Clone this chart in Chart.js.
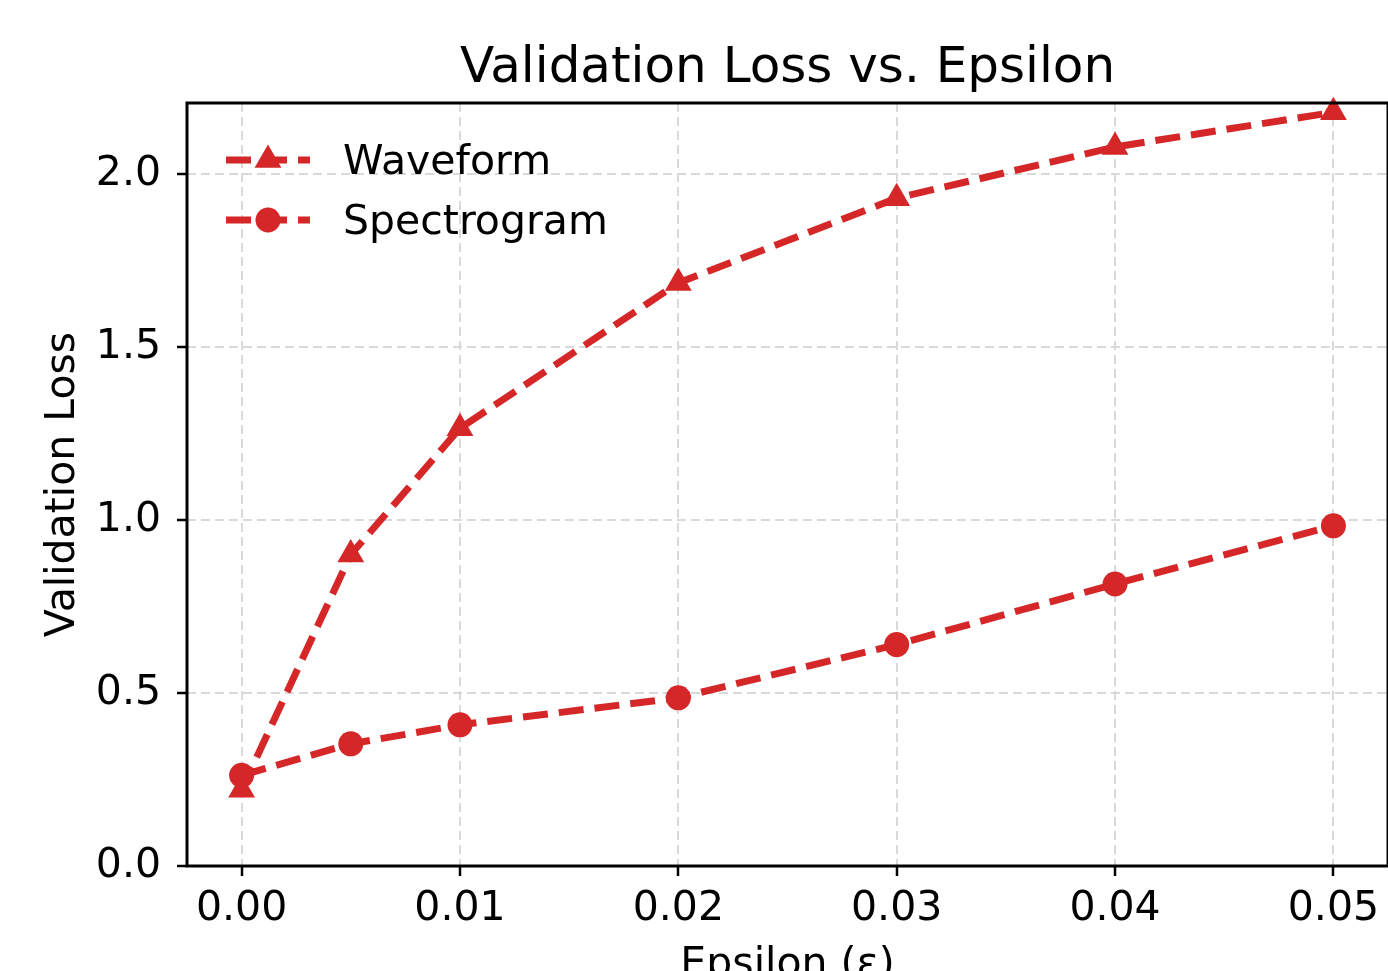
<!DOCTYPE html>
<html>
<head>
<meta charset="utf-8">
<script src="https://cdn.jsdelivr.net/npm/chart.js@4/dist/chart.umd.min.js"></script>
<style>
  html, body { margin: 0; padding: 0; background: #fff; overflow: hidden; }
  #wrap { width: 1388px; height: 971px; }
</style>
</head>
<body>
<div id="wrap"><canvas id="myChart"></canvas></div>
<script>
const epsilons = [0, 0.005, 0.01, 0.02, 0.03, 0.04, 0.05];
const waveformLoss = [0.22, 0.90, 1.265, 1.685, 1.93, 2.078, 2.178];
const spectrogramLoss = [0.262, 0.353, 0.408, 0.486, 0.64, 0.815, 0.983];
const xTicks = [0, 0.01, 0.02, 0.03, 0.04, 0.05];
const xTickLabels = ['0.00', '0.01', '0.02', '0.03', '0.04', '0.05'];
const yTicks = [0, 0.5, 1, 1.5, 2];
const yTickLabels = ['0.0', '0.5', '1.0', '1.5', '2.0'];

const RED = '#d62728';
const FONT = '"DejaVu Sans", "Liberation Sans", sans-serif';

// matplotlib-style box around the plot area
const boxPlugin = {
  id: 'box',
  afterDraw(chart) {
    const a = chart.chartArea, ctx = chart.ctx;
    ctx.save();
    ctx.strokeStyle = '#000';
    ctx.lineWidth = 3;
    ctx.strokeRect(a.left, a.top, a.right - a.left, a.bottom - a.top);
    ctx.restore();
  }
};

// legend drawn inside the axes, line + marker + label
const legendPlugin = {
  id: 'mplLegend',
  afterDraw(chart) {
    const a = chart.chartArea, ctx = chart.ctx;
    chart.data.datasets.forEach((ds, i) => {
      const y = a.top + 57 + i * 60;
      const x0 = a.left + 39, x1 = a.left + 123, xm = (x0 + x1) / 2;
      ctx.save();
      ctx.strokeStyle = ds.borderColor;
      ctx.lineWidth = ds.borderWidth;
      ctx.setLineDash(ds.borderDash);
      ctx.beginPath();
      ctx.moveTo(x0, y);
      ctx.lineTo(x1, y);
      ctx.stroke();
      ctx.setLineDash([]);
      ctx.fillStyle = ds.backgroundColor;
      ctx.beginPath();
      const r = ds.pointRadius;
      if (ds.pointStyle === 'triangle') {
        ctx.moveTo(xm, y - r);
        ctx.lineTo(xm + r * Math.sqrt(3) / 2, y + r / 2);
        ctx.lineTo(xm - r * Math.sqrt(3) / 2, y + r / 2);
        ctx.closePath();
      } else {
        ctx.arc(xm, y, r, 0, Math.PI * 2);
      }
      ctx.fill();
      ctx.fillStyle = '#000';
      ctx.font = '41px ' + FONT;
      ctx.textBaseline = 'middle';
      ctx.textAlign = 'left';
      ctx.fillText(ds.label, a.left + 156, y + 3);
      ctx.restore();
    });
  }
};

const ctx = document.getElementById('myChart').getContext('2d');
new Chart(ctx, {
  type: 'line',
  data: {
    datasets: [
      {
        label: 'Waveform',
        data: epsilons.map((e, i) => ({ x: e, y: waveformLoss[i] })),
        borderColor: RED,
        backgroundColor: RED,
        borderWidth: 7,
        borderDash: [25, 11],
        pointStyle: 'triangle',
        pointRadius: 15.5,
        pointBorderWidth: 0,
        clip: false
      },
      {
        label: 'Spectrogram',
        data: epsilons.map((e, i) => ({ x: e, y: spectrogramLoss[i] })),
        borderColor: RED,
        backgroundColor: RED,
        borderWidth: 7,
        borderDash: [25, 11],
        pointStyle: 'circle',
        pointRadius: 12.5,
        pointBorderWidth: 0,
        clip: false
      }
    ]
  },
  options: {
    responsive: true,
    maintainAspectRatio: false,
    animation: false,
    layout: { autoPadding: false, padding: { left: 0, right: 0, top: 0, bottom: 0 } },
    plugins: {
      legend: { display: false },
      tooltip: { enabled: false },
      title: {
        display: true,
        fullSize: false,
        text: 'Validation Loss vs. Epsilon',
        color: '#000',
        font: { family: FONT, size: 50, weight: 'normal', lineHeight: 1.2 },
        padding: { top: 39, bottom: 4 }
      }
    },
    scales: {
      x: {
        type: 'linear',
        min: -0.0025,
        max: 0.0525,
        afterBuildTicks: s => { s.ticks = xTicks.map(v => ({ value: v })); },
        afterFit: s => { s.height = 105; s.paddingLeft = 0; s.paddingRight = 0; },
        ticks: {
          callback: (v, i) => xTickLabels[i],
          color: '#000',
          font: { family: FONT, size: 41 },
          padding: 9,
          maxRotation: 0,
          autoSkip: false
        },
        grid: {
          color: '#d9d9d9',
          lineWidth: 2,
          tickColor: '#000',
          tickWidth: 2.5,
          tickLength: 10
        },
        border: { display: false, dash: [9, 5] },
        title: {
          display: true,
          text: 'Epsilon (ε)',
          color: '#000',
          font: { family: FONT, size: 41 },
          padding: { top: 0, bottom: -19 }
        }
      },
      y: {
        type: 'linear',
        min: 0,
        max: 2.205,
        afterBuildTicks: s => { s.ticks = yTicks.map(v => ({ value: v })); },
        afterFit: s => { s.width = 187; s.paddingTop = 0; s.paddingBottom = 0; },
        ticks: {
          callback: (v, i) => yTickLabels[i],
          color: '#000',
          font: { family: FONT, size: 41 },
          padding: 16
        },
        grid: {
          color: '#d9d9d9',
          lineWidth: 2,
          tickColor: '#000',
          tickWidth: 2.5,
          tickLength: 10
        },
        border: { display: false, dash: [9, 5] },
        title: {
          display: true,
          text: 'Validation Loss',
          color: '#000',
          font: { family: FONT, size: 41 },
          padding: { top: 39, bottom: 0 }
        }
      }
    }
  },
  plugins: [boxPlugin, legendPlugin]
});
</script>
</body>
</html>
